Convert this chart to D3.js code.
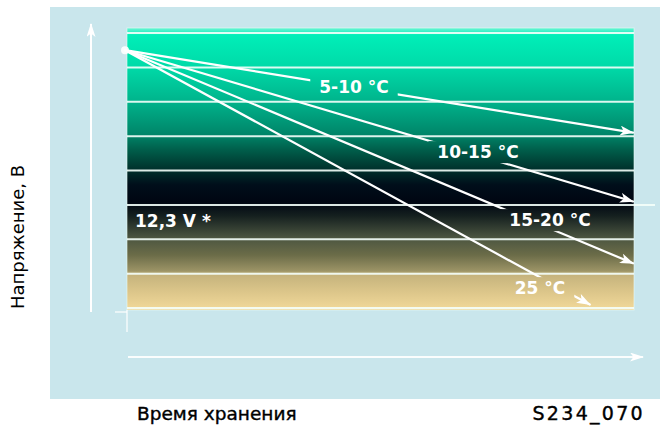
<!DOCTYPE html>
<html>
<head>
<meta charset="utf-8">
<script src="https://cdn.jsdelivr.net/npm/d3@7"></script>
<style>
  html, body { margin: 0; padding: 0; background: #fff; }
  svg { display: block; }
</style>
</head>
<body>
<div id="chart"></div>
<script>
// storage temperature ranges and voltage drop over time
const series = ['5-10 °C', '10-15 °C', '15-20 °C', '25 °C'];
const startTime = 0;
const startVoltage = 12.75;
const endTime = [100, 100, 100, 91.5];
const endVoltage = [12.51, 12.31, 12.13, 12.01];
const gridVoltages = [12.0, 12.1, 12.2, 12.3, 12.4, 12.5, 12.6, 12.7, 12.8];
const refVoltage = 12.3;
const refLabel = '12,3 V *';
const yTitle = 'Напряжение, В';
const xTitle = 'Время хранения';
const figId = 'S234_070';

const width = 660;
const height = 428;

const svg = d3.select('#chart').append('svg')
  .attr('width', width)
  .attr('height', height);

const defs = svg.append('defs');

const x = d3.scaleLinear().domain([0, 100]).range([125, 633]);
const y = d3.scaleLinear().domain([12.0, 12.8]).range([308, 33]);

const plot = { x0: 127, x1: 634, y0: 28, y1: 310 };

// background panel
svg.append('rect')
  .attr('x', 50).attr('y', 7)
  .attr('width', width - 50).attr('height', 392)
  .attr('fill', '#c9e6ec');

// band gradient
const grad = defs.append('linearGradient')
  .attr('id', 'bands')
  .attr('gradientUnits', 'userSpaceOnUse')
  .attr('x1', 0).attr('x2', 0)
  .attr('y1', plot.y0).attr('y2', plot.y1);
const stops = [
  [28, '#6ff4d4'], [35, '#00efb8'], [67, '#00daa8'], [101, '#00b48c'],
  [135, '#008468'], [150, '#005e4a'], [168, '#00342e'], [185, '#000e1a'],
  [202, '#000612'], [216, '#15201f'], [237, '#4a5440'], [255, '#6b6c48'],
  [271, '#9c9466'], [274, '#c4b27c'], [292, '#dcc68a'], [310, '#f2d99a']
];
grad.selectAll('stop').data(stops).enter().append('stop')
  .attr('offset', d => (d[0] - plot.y0) / (plot.y1 - plot.y0))
  .attr('stop-color', d => d[1]);

svg.append('rect')
  .attr('x', plot.x0).attr('y', plot.y0)
  .attr('width', plot.x1 - plot.x0).attr('height', plot.y1 - plot.y0)
  .attr('fill', 'url(#bands)')
  .attr('stroke', '#eafcf6')
  .attr('stroke-opacity', 0.6)
  .attr('stroke-width', 1);

// grid lines
svg.append('g').selectAll('line')
  .data(gridVoltages)
  .enter().append('line')
  .attr('x1', plot.x0).attr('x2', d => d === refVoltage ? 655 : plot.x1)
  .attr('y1', d => y(d)).attr('y2', d => y(d))
  .attr('stroke', '#f4fffb')
  .attr('stroke-width', 2)
  .attr('stroke-opacity', 0.9);

// arrow markers
const marker = (id, w, h) => defs.append('marker')
  .attr('id', id)
  .attr('markerUnits', 'userSpaceOnUse')
  .attr('viewBox', `0 0 ${w} ${h}`)
  .attr('markerWidth', w).attr('markerHeight', h)
  .attr('refX', w - 1).attr('refY', h / 2)
  .attr('orient', 'auto')
  .append('path')
  .attr('d', `M0,0L${w},${h / 2}L0,${h}L${w * 0.25},${h / 2}Z`)
  .attr('fill', '#fff');
marker('arr', 14, 10);
marker('axisArr', 14, 9);

// axes arrows
svg.append('line')
  .attr('x1', 91).attr('x2', 91).attr('y1', 312).attr('y2', 24)
  .attr('stroke', '#fff').attr('stroke-width', 2)
  .attr('marker-end', 'url(#axisArr)');
svg.append('line')
  .attr('x1', plot.x0 + 1).attr('x2', 643).attr('y1', 357).attr('y2', 357)
  .attr('stroke', '#fff').attr('stroke-width', 2).attr('stroke-opacity', 0.9)
  .attr('marker-end', 'url(#axisArr)');
svg.append('line')
  .attr('x1', 115).attr('x2', plot.x0).attr('y1', 312).attr('y2', 312)
  .attr('stroke', '#fff').attr('stroke-width', 1.5).attr('stroke-opacity', 0.8);
svg.append('line')
  .attr('x1', plot.x0).attr('x2', plot.x0).attr('y1', 310).attr('y2', 332)
  .attr('stroke', '#fff').attr('stroke-width', 1.5).attr('stroke-opacity', 0.8);

// labels
const labelFont = '"DejaVu Sans", sans-serif';
const labelPos = [[354, 87], [478, 152], [550, 220], [540, 288]];
const labels = svg.append('g')
  .attr('font-family', labelFont)
  .attr('font-weight', 'bold')
  .attr('font-size', 17)
  .attr('fill', '#fff');
labels.selectAll('text.series')
  .data(series)
  .enter().append('text')
  .attr('class', 'series')
  .attr('x', (d, i) => labelPos[i][0])
  .attr('y', (d, i) => labelPos[i][1])
  .attr('dy', '0.36em')
  .attr('text-anchor', 'middle')
  .text(d => d);
labels.append('text')
  .attr('x', 135).attr('y', y(refVoltage) + 16)
  .attr('dy', '0.36em')
  .text(refLabel);

// mask out the line where the labels sit
const mask = defs.append('mask').attr('id', 'gaps')
  .attr('maskUnits', 'userSpaceOnUse')
  .attr('x', 0).attr('y', 0).attr('width', width).attr('height', height);
mask.append('rect').attr('width', width).attr('height', height).attr('fill', '#fff');
labels.selectAll('text.series').each(function () {
  const b = this.getBBox();
  mask.append('rect')
    .attr('x', b.x - 9).attr('y', b.y - 1)
    .attr('width', b.width + 18).attr('height', b.height + 2)
    .attr('fill', '#000');
});

// discharge lines
const lines = svg.append('g').attr('mask', 'url(#gaps)');
lines.selectAll('line')
  .data(series)
  .enter().append('line')
  .attr('x1', x(startTime)).attr('y1', y(startVoltage))
  .attr('x2', (d, i) => x(endTime[i])).attr('y2', (d, i) => y(endVoltage[i]))
  .attr('stroke', '#fff')
  .attr('stroke-width', 2.2)
  .attr('stroke-linecap', 'round')
  .attr('marker-end', 'url(#arr)');

svg.append('circle')
  .attr('cx', x(startTime)).attr('cy', y(startVoltage))
  .attr('r', 4)
  .attr('fill', '#fff')
  .attr('opacity', 0.9);

// titles
svg.append('text')
  .attr('transform', 'translate(24,237) rotate(-90)')
  .attr('text-anchor', 'middle')
  .attr('font-family', labelFont)
  .attr('font-size', 18)
  .attr('fill', '#000')
  .text(yTitle);

svg.append('text')
  .attr('x', 137).attr('y', 420)
  .attr('font-family', labelFont)
  .attr('font-size', 18.5)
  .attr('fill', '#000')
  .attr('stroke', '#000')
  .attr('stroke-width', 0.4)
  .text(xTitle);

svg.append('text')
  .attr('x', 645).attr('y', 420)
  .attr('text-anchor', 'end')
  .attr('font-family', labelFont)
  .attr('font-size', 19)
  .attr('letter-spacing', 2.3)
  .attr('fill', '#000')
  .attr('stroke', '#000')
  .attr('stroke-width', 0.4)
  .text(figId);
</script>
</body>
</html>
